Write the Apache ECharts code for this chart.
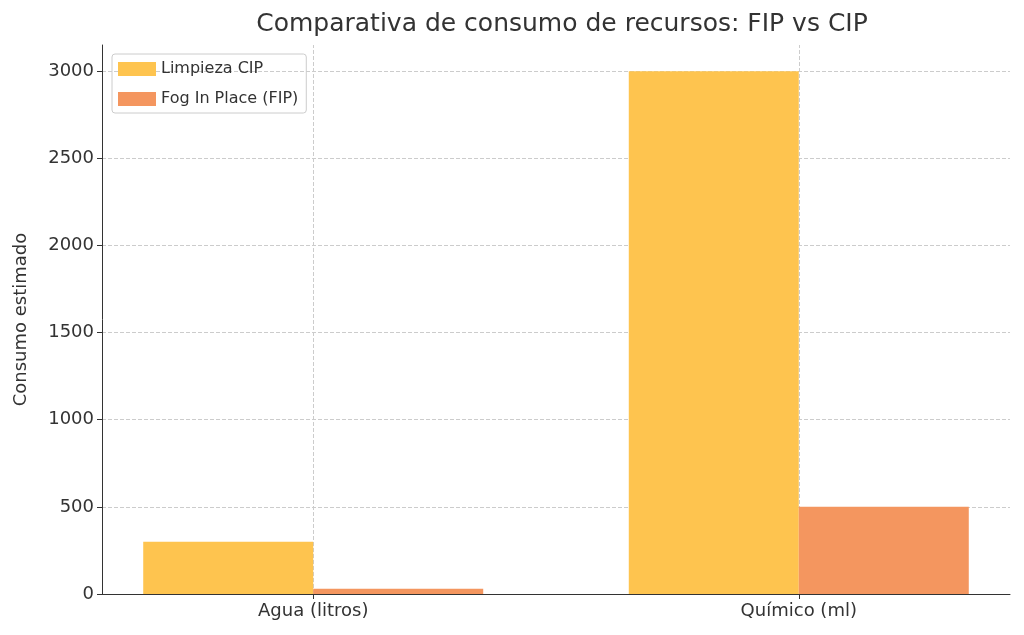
<!DOCTYPE html>
<html><head><meta charset="utf-8">
<script src="https://cdn.jsdelivr.net/npm/echarts@6/dist/echarts.min.js"></script>
<style>body{margin:0}#c{width:1024px;height:635px}</style></head>
<body><div id="c"></div>
<script>
const categories = ['Agua (litros)', 'Químico (ml)'];
const cipValues = [300, 3000];
const fipValues = [30, 500];
const seriesNames = ['Limpieza CIP', 'Fog In Place (FIP)'];
const chart = echarts.init(document.getElementById('c'));
const font = 'DejaVu Sans';
chart.setOption({
  animation: false,
  textStyle: {fontFamily: font},
  title: {text: 'Comparativa de consumo de recursos: FIP vs CIP', left: 557, textAlign: 'center', top: 7,
    textStyle: {fontSize: 25, fontWeight: 'normal', color: '#333', fontFamily: font}},
  legend: {left: 112, top: 54, orient: 'vertical', icon: 'rect', itemWidth: 38, itemHeight: 14, itemGap: 14,
    borderColor: '#ccc', borderWidth: 1, borderRadius: 3, padding: [7, 8, 6, 6],
    textStyle: {fontSize: 16, color: '#333'}, data: seriesNames},
  grid: {left: 102, right: 14, top: 45, bottom: 41},
  xAxis: {type: 'value', min: -0.435, max: 1.435,
    axisLine: {show: true, onZero: false, lineStyle: {color: '#333'}},
    axisTick: {show: true, customValues: [0, 1], lineStyle: {color: '#333'}},
    axisLabel: {customValues: [0, 1], formatter: v => categories[Math.round(v)], fontSize: 18, color: '#333', margin: 8},
    splitLine: {show: false}},
  yAxis: {type: 'value', min: 0, max: 3150, interval: 500,
    name: 'Consumo estimado', nameLocation: 'middle', nameGap: 72, nameTextStyle: {fontSize: 18, color: '#333'},
    axisLine: {show: true, onZero: false, lineStyle: {color: '#333'}}, axisTick: {show: true, lineStyle: {color: '#333'}},
    axisLabel: {fontSize: 18, color: '#333', showMaxLabel: false, formatter: v => String(v)},
    splitLine: {showMaxLine: false, lineStyle: {type: 'dashed', color: '#ccc'}}},
  series: [
    {name: seriesNames[0], type: 'bar', barWidth: 170, barGap: '0%', itemStyle: {color: '#fec44f'},
      data: cipValues.map((v, i) => [i, v])},
    {name: seriesNames[1], type: 'bar', barWidth: 170, itemStyle: {color: '#f4965f'},
      data: fipValues.map((v, i) => [i, v])},
    {type: 'line', data: [], z: 0, silent: true,
      markLine: {silent: true, symbol: 'none', label: {show: false}, z: 0,
        lineStyle: {type: 'dashed', color: '#ccc', width: 1},
        data: categories.map((c, i) => ({xAxis: i}))}}
  ]
});
</script></body></html>
